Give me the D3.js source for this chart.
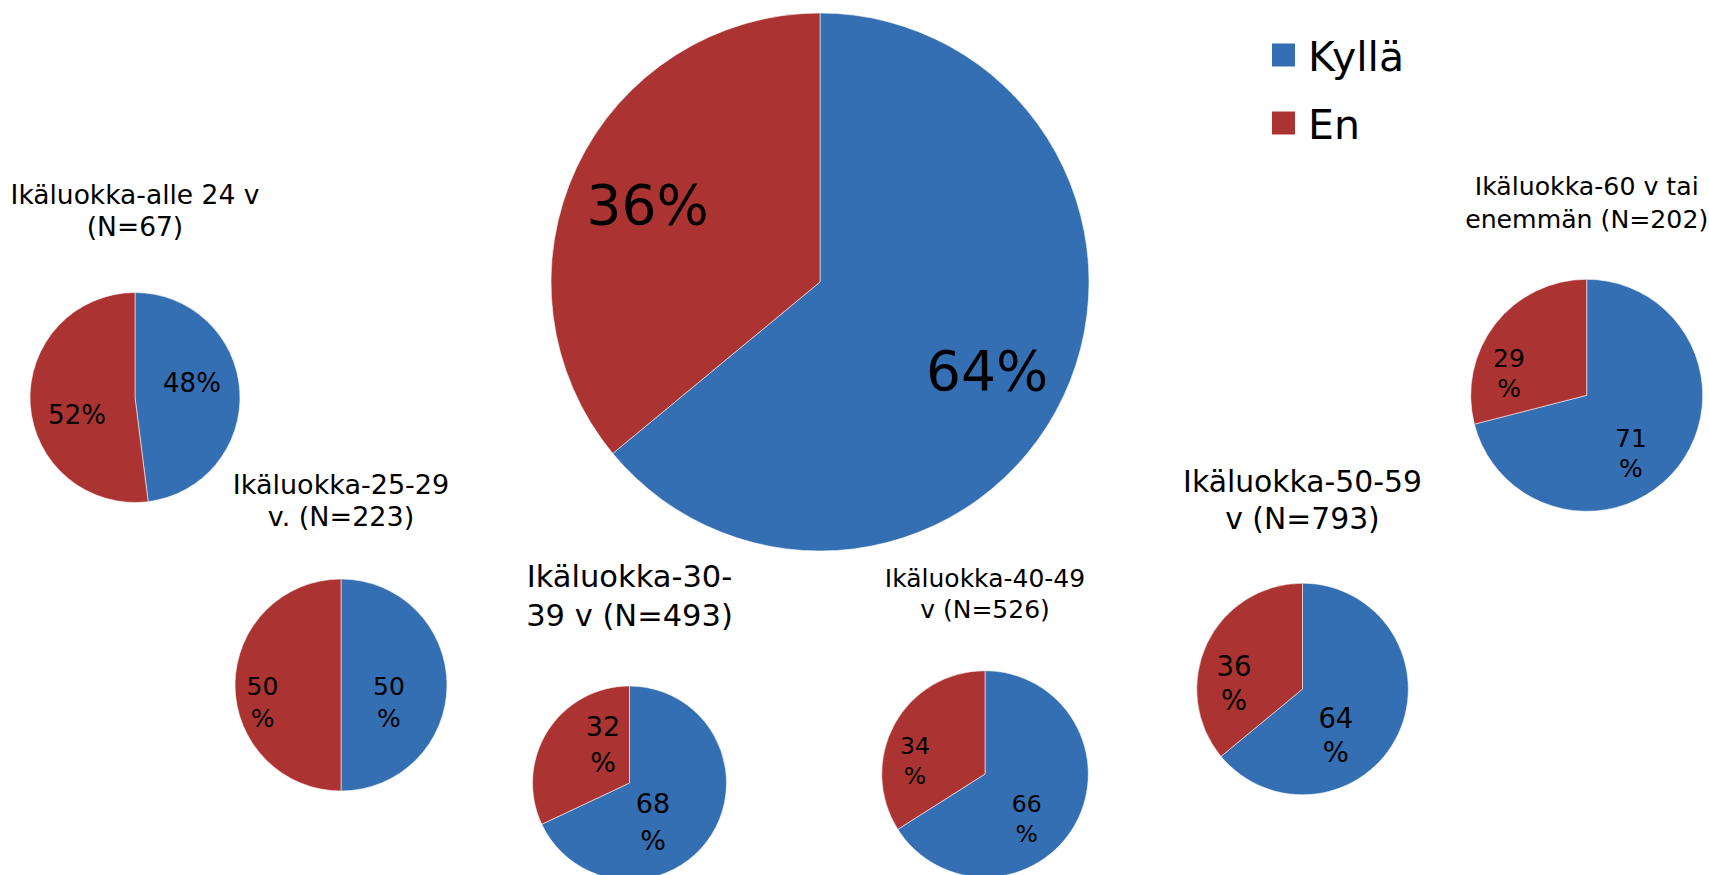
<!DOCTYPE html>
<html>
<head>
<meta charset="utf-8">
<script src="https://cdn.jsdelivr.net/npm/d3@7/dist/d3.min.js"></script>
<style>
  html, body { margin: 0; padding: 0; background: #fff; }
  svg { display: block; }
  text { font-family: "DejaVu Sans", Verdana, sans-serif; fill: #000; }
</style>
</head>
<body>
<script>
// ---- data ----
const categories = ["Kyllä", "En"];
const totalValues = [64, 36];
const groupTitles = [
  ["Ikäluokka-alle 24 v", "(N=67)"],
  ["Ikäluokka-25-29", "v. (N=223)"],
  ["Ikäluokka-30-", "39 v (N=493)"],
  ["Ikäluokka-40-49", "v (N=526)"],
  ["Ikäluokka-50-59", "v (N=793)"],
  ["Ikäluokka-60 v tai", "enemmän (N=202)"]
];
const kyllaValues = [48, 50, 68, 66, 64, 71];
const enValues = [52, 50, 32, 34, 36, 29];

// ---- layout / style ----
const W = 1709, H = 875;
const colors = ["#346EB3", "#AB3432"];
const bigLayout = { cx: 820, cy: 282, r: 269, labelSize: 55, wrap: false, labelGap: 0,
  lab: [[0.702, 2.6], [0.704, -0.7]] };
const smallLayout = [
  { cx: 135, cy: 397.5, r: 105, titleSize: 26.5, titleY: 204.3, titleGap: 31.7, labelSize: 26, wrap: false, labelGap: 0,
    lab: [[0.561, -11.1], [0.577, -13.2]] },
  { cx: 341, cy: 685, r: 106, titleSize: 27, titleY: 494.3, titleGap: 31.2, labelSize: 25, wrap: true, labelGap: 31.7,
    lab: [[0.479, 19.2], [0.757, -12]] },
  { cx: 629.5, cy: 783, r: 97, titleSize: 30.5, titleY: 587.3, titleGap: 38.7, labelSize: 27, wrap: true, labelGap: 36.7,
    lab: [[0.467, 26.3], [0.486, 23.4]] },
  { cx: 985, cy: 774, r: 103.3, titleSize: 25, titleY: 587.3, titleGap: 31, labelSize: 23.5, wrap: true, labelGap: 30,
    lab: [[0.589, 17.9], [0.691, -17.5]] },
  { cx: 1302.5, cy: 689, r: 105.8, titleSize: 29.8, titleY: 491.7, titleGap: 37.3, labelSize: 27.5, wrap: true, labelGap: 34,
    lab: [[0.538, 28.9], [0.650, -19.8]] },
  { cx: 1586.7, cy: 395.3, r: 116, titleSize: 25.2, titleY: 195, titleGap: 33.3, labelSize: 25, wrap: true, labelGap: 30,
    lab: [[0.629, 14.8], [0.698, -21.4]] }
];

const svg = d3.select("body").append("svg").attr("width", W).attr("height", H);
const color = d3.scaleOrdinal().domain(categories).range(colors);
const pie = d3.pie().sort(null).value(d => d.value);

function drawPie(values, L, title) {
  const g = svg.append("g").attr("transform", `translate(${L.cx},${L.cy})`);
  const data = categories.map((c, i) => ({ cat: c, value: values[i] }));
  const arcs = pie(data);
  const arc = d3.arc().innerRadius(0).outerRadius(L.r);
  g.selectAll("path.slice").data(arcs).enter().append("path")
    .attr("class", "slice")
    .attr("d", arc)
    .attr("fill", d => color(d.data.cat))
    .attr("stroke", "rgba(255,255,255,0.55)")
    .attr("stroke-width", 1);

  const cap = 0.729 * L.labelSize;
  arcs.forEach((a, i) => {
    const [rf, shift] = L.lab[i];
    const mid = (a.startAngle + a.endAngle) / 2 + shift * Math.PI / 180;
    const [x, y] = d3.arc().innerRadius(rf * L.r).outerRadius(rf * L.r).startAngle(mid).endAngle(mid).centroid();
    const t = g.append("text").attr("text-anchor", "middle").style("font-size", L.labelSize + "px");
    if (L.wrap) {
      const b1 = y - (L.labelGap - cap) / 2;
      t.append("tspan").attr("x", x).attr("y", b1).text(a.data.value);
      t.append("tspan").attr("x", x).attr("y", b1 + L.labelGap).text("%");
    } else {
      t.attr("x", x).attr("y", y + cap / 2).text(a.data.value + "%");
    }
  });

  if (title) {
    const tt = svg.append("text").attr("text-anchor", "middle").style("font-size", L.titleSize + "px");
    title.forEach((line, j) => {
      tt.append("tspan").attr("x", L.cx).attr("y", L.titleY + j * L.titleGap).text(line);
    });
  }
}

drawPie(totalValues, bigLayout, null);
groupTitles.forEach((t, i) => drawPie([kyllaValues[i], enValues[i]], smallLayout[i], t));

// legend
const legend = svg.append("g").attr("transform", "translate(1272,43.5)");
categories.forEach((c, i) => {
  const row = legend.append("g").attr("transform", `translate(0,${i * 68})`);
  row.append("rect").attr("width", 23).attr("height", 23).attr("fill", color(c));
  row.append("text").attr("x", 36).attr("y", 27).style("font-size", "41px").text(c);
});
</script>
</body>
</html>
